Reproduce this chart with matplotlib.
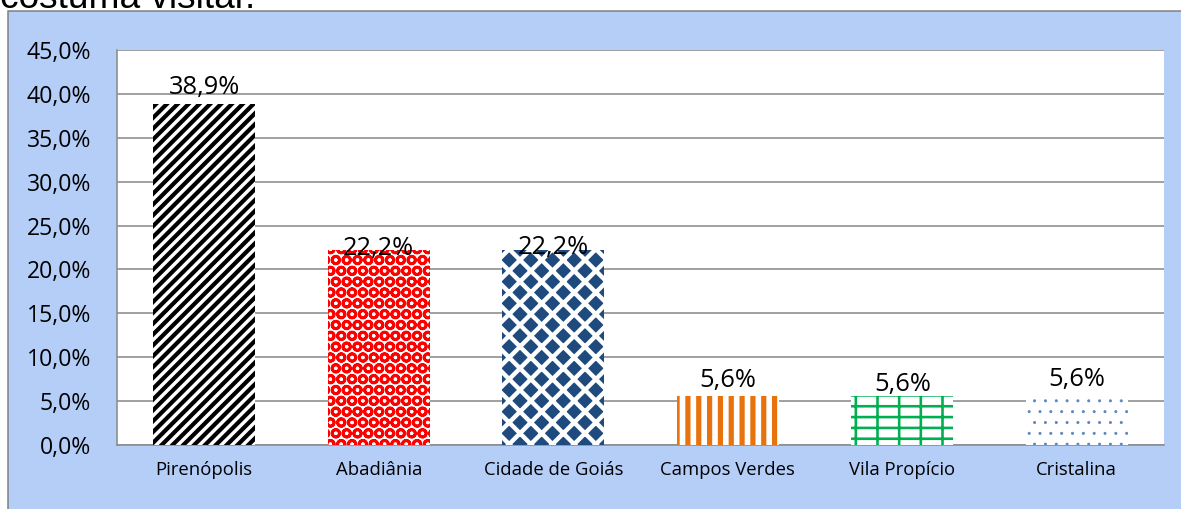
import matplotlib
matplotlib.use("Agg")
import matplotlib.pyplot as plt
from matplotlib.patches import Rectangle
from matplotlib.ticker import MultipleLocator, FuncFormatter

# ---- data ----
categories = ["Pirenópolis", "Abadiânia", "Cidade de Goiás", "Campos Verdes", "Vila Propício", "Cristalina"]
values = [38.9, 22.2, 22.2, 5.6, 5.6, 5.6]
value_labels = ["38,9%", "22,2%", "22,2%", "5,6%", "5,6%", "5,6%"]
title_fragment = "costuma visitar."

# ---- styles ----
DPI = 130
W, H = 1181, 509
def pt(px):
    return px * 72.0 / DPI

face_colors = ["white", "white", "#1F4A7E", "white", "white", "white"]
hatch_colors = ["black", "#FF0000", "white", "#E8720C", "#00B050", "#5B84BE"]
hatches = ["////", "OO", "xx", "||", "--|", ".."]
hatch_lw = [pt(4.2), pt(2.8), pt(4.4), pt(5.2), pt(2.6), pt(0.8)]
label_dy_px = [10, -5, -4, 9, 5, 10]

plt.rcParams['font.family'] = ['Open Sans', 'DejaVu Sans']

fig = plt.figure(figsize=(W / DPI, H / DPI), dpi=DPI)
fig.patch.set_facecolor("white")

# blue chart-area frame
frame = Rectangle((8 / W, -0.01), 1.2, 1 - 11 / H + 0.01, transform=fig.transFigure,
                  facecolor="#B4CEF8", edgecolor="#7F7F7F", linewidth=pt(1.5), zorder=-5)
fig.patches.append(frame)

# cut-off text at the top
fig.text(0 / W, 1 - 8 / H, title_fragment, fontsize=pt(37), family=['Liberation Sans', 'DejaVu Sans'],
         va="baseline", ha="left", color="black", zorder=-4)

ax = fig.add_axes([117 / W, 1 - 445 / H, (1164 - 117) / W, (445 - 50) / H])
ax.set_zorder(2)
ax.set_facecolor("white")

x = list(range(len(categories)))
for i in x:
    with plt.rc_context({'hatch.linewidth': hatch_lw[i]}):
        bars = ax.bar(i, values[i], width=0.585, color=face_colors[i], edgecolor=hatch_colors[i],
                      hatch=hatches[i], linewidth=0, zorder=3)
        for b in bars:
            if hasattr(b, "set_hatch_linewidth"):
                b.set_hatch_linewidth(hatch_lw[i])
    ax.annotate(value_labels[i], (i, values[i]), xytext=(0, pt(label_dy_px[i])),
                textcoords="offset points", ha="center", va="baseline",
                fontsize=pt(25.5), color="black", zorder=5)

ax.set_xlim(-0.5, len(categories) - 0.5)
ax.set_ylim(0, 45)
ax.yaxis.set_major_locator(MultipleLocator(5))
ax.yaxis.set_major_formatter(FuncFormatter(lambda v, p: f"{v:.1f}%".replace(".", ",")))
ax.set_xticks(x)
ax.set_xticklabels(categories)
ax.tick_params(axis="y", length=0, pad=pt(26), labelsize=pt(23))
ax.tick_params(axis="x", length=0, pad=pt(16), labelsize=pt(18.5))
ax.grid(axis="y", color="#8C8C8C", linewidth=pt(1.6), zorder=1)
ax.set_axisbelow(True)
for s in ["right", "top"]:
    ax.spines[s].set_visible(False)
for s in ["left", "bottom"]:
    ax.spines[s].set_color("#8C8C8C")
    ax.spines[s].set_linewidth(pt(1.6))

fig.savefig("out.png", dpi=DPI, facecolor=fig.get_facecolor())
